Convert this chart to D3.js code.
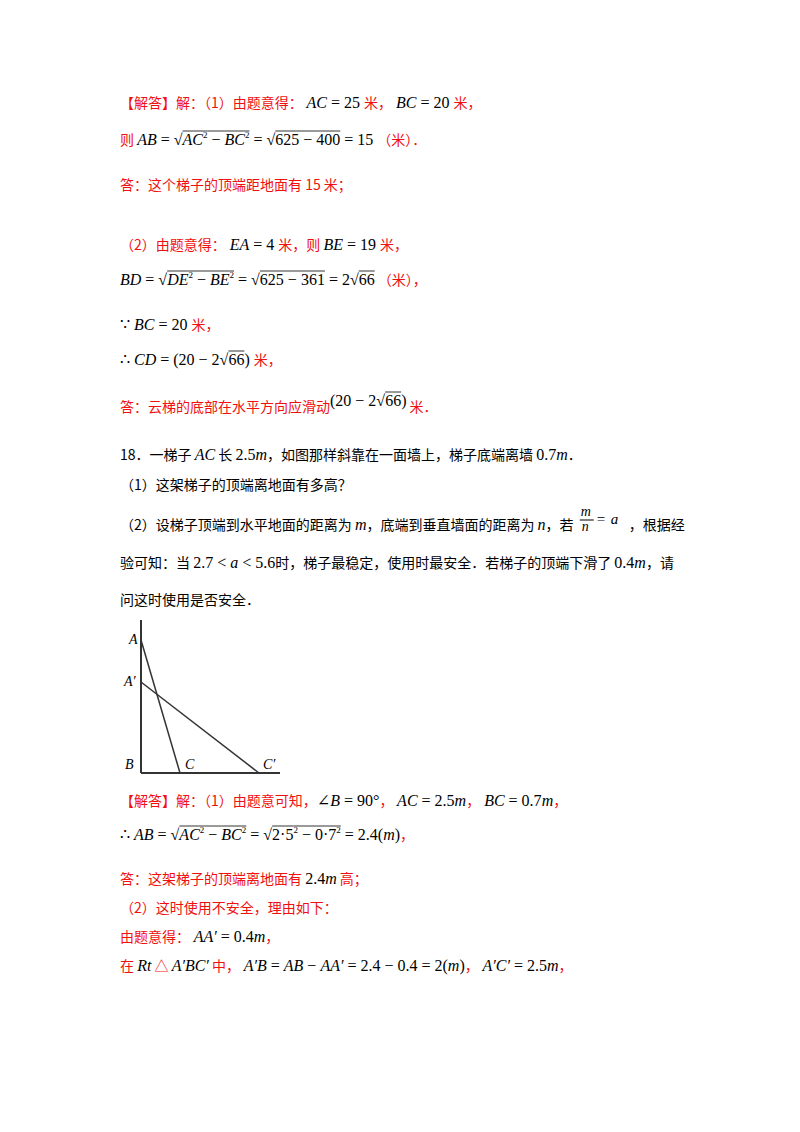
<!DOCTYPE html>
<html><head><meta charset="utf-8">
<script src="https://cdn.jsdelivr.net/npm/d3@7"></script>
<style>body{margin:0;background:#fff}</style>
</head><body>
<script>
// segment kinds: c red chinese, k black chinese, i italic serif, r roman serif, s superscript
var lineY = [108,145,190,250,285,330,365,412,460,490,530,568,605,806,840,884,913,942,971];
var lines = [
  [["c","【解答】解：（1）由题意得："],["i"," AC"],["r"," = 25 "],["c","米，"],["i"," BC"],["r"," = 20 "],["c","米，"]],
  [["c","则 "],["i","AB"],["r"," = √"],["i","AC","o"],["s","2","o"],["r"," − ","o"],["i","BC","o"],["s","2","o"],["r"," = √"],["r","625 − 400","o"],["r"," = 15 "],["c","（米）．"]],
  [["c","答：这个梯子的顶端距地面有 15 米；"]],
  [["c","（2）由题意得："],["i"," EA"],["r"," = 4 "],["c","米，则 "],["i","BE"],["r"," = 19 "],["c","米，"]],
  [["i","BD"],["r"," = √"],["i","DE","o"],["s","2","o"],["r"," − ","o"],["i","BE","o"],["s","2","o"],["r"," = √"],["r","625 − 361","o"],["r"," = 2√"],["r","66","o"],["c"," （米），"]],
  [["r","∵ "],["i","BC"],["r"," = 20 "],["c","米，"]],
  [["r","∴ "],["i","CD"],["r"," = (20 − 2√"],["r","66","o"],["r",") "],["c","米，"]],
  [["c","答：云梯的底部在水平方向应滑动"],["r","(20 − 2√","u"],["r","66","ou"],["r",")","u"],["c"," 米．"]],
  [["k","18．一梯子 "],["i","AC"],["k"," 长 "],["r","2.5"],["i","m"],["k","，如图那样斜靠在一面墙上，梯子底端离墙 "],["r","0.7"],["i","m"],["k","．"]],
  [["k","（1）这架梯子的顶端离地面有多高？"]],
  [["k","（2）设梯子顶端到水平地面的距离为 "],["i","m"],["k","，底端到垂直墙面的距离为 "],["i","n"],["k","，若 "],["f",""],["k","，根据经"]],
  [["k","验可知：当 "],["r","2.7 < "],["i","a"],["r"," < 5.6"],["k","时，梯子最稳定，使用时最安全．若梯子的顶端下滑了 "],["r","0.4"],["i","m"],["k","，请"]],
  [["k","问这时使用是否安全．"]],
  [["c","【解答】解：（1）由题意可知，"],["r","∠"],["i","B"],["r"," = 90°"],["c","，"],["i"," AC"],["r"," = 2.5"],["i","m"],["c","，"],["i"," BC"],["r"," = 0.7"],["i","m"],["c","，"]],
  [["r","∴ "],["i","AB"],["r"," = √"],["i","AC","o"],["s","2","o"],["r"," − ","o"],["i","BC","o"],["s","2","o"],["r"," = √"],["r","2·5","o"],["s","2","o"],["r"," − 0·7","o"],["s","2","o"],["r"," = 2.4("],["i","m"],["r",")"],["c","，"]],
  [["c","答：这架梯子的顶端离地面有 "],["r","2.4"],["i","m"],["c"," 高；"]],
  [["c","（2）这时使用不安全，理由如下："]],
  [["c","由题意得："],["i"," AA′"],["r"," = 0.4"],["i","m"],["c","，"]],
  [["c","在 "],["i","Rt"],["c"," △ "],["i","A′BC′"],["c"," 中，"],["i"," A′B"],["r"," = "],["i","AB"],["r"," − "],["i","AA′"],["r"," = 2.4 − 0.4 = 2("],["i","m"],["r",")"],["c","，"],["i"," A′C′"],["r"," = 2.5"],["i","m"],["c","，"]]
];

// figure points (figure units)
var figPoints = [
  {name:"A", x:0, y:133, lx:-12, ly:4},
  {name:"A′", x:0, y:91, lx:-17, ly:4},
  {name:"B", x:0, y:0, lx:-16, ly:-4},
  {name:"C", x:39, y:0, lx:5, ly:-4},
  {name:"C′", x:118, y:0, lx:4, ly:-4}
];
var figSegments = [["B","A0"],["B","G"],["A","C"],["A′","C′"]];

var svg = d3.select("body").append("svg").attr("width",800).attr("height",1132);
var CN = "'Noto Sans CJK SC', sans-serif", SERIF = "'Liberation Serif', 'DejaVu Serif', serif";

lines.forEach(function(line, li){
  var x = 120, y = lineY[li];
  line.forEach(function(seg){
    var kind = seg[0], flags = seg[2] || "";
    if (kind === "f") {
      // fraction m/n = a
      var g = svg.append("g");
      g.append("text").attr("x",x+4).attr("y",y-14).attr("font-family",SERIF).attr("font-style","italic").attr("font-size",14).text("m");
      g.append("line").attr("x1",x+3).attr("x2",x+17).attr("y1",y-10).attr("y2",y-10).attr("stroke","#000");
      g.append("text").attr("x",x+5).attr("y",y+1).attr("font-family",SERIF).attr("font-style","italic").attr("font-size",14).text("n");
      g.append("text").attr("x",x+20).attr("y",y-6).attr("font-family",SERIF).attr("font-size",15).text("= ");
      g.append("text").attr("x",x+34).attr("y",y-6).attr("font-family",SERIF).attr("font-style","italic").attr("font-size",15).text("a");
      x += 52; return;
    }
    var dy = kind === "s" ? -7 : 0;
    if (flags.indexOf("u") >= 0) dy -= 6;
    var t = svg.append("text").attr("x",x).attr("y",y+dy).attr("xml:space","preserve").style("white-space","pre")
      .attr("font-family", (kind==="c"||kind==="k") ? CN : SERIF)
      .attr("font-size", kind==="s" ? 9 : (kind==="c"||kind==="k") ? 14 : 16)
      .attr("font-style", kind==="i" ? "italic" : "normal")
      .attr("fill", kind==="c" ? "#f01010" : "#000")
      .text(seg[1]);
    var w = t.node().getComputedTextLength();
    if (flags.indexOf("o") >= 0) {
      var oy = y - 14 + (flags.indexOf("u")>=0 ? -6 : 0);
      svg.append("line").attr("x1",x).attr("x2",x+w).attr("y1",oy).attr("y2",oy).attr("stroke","#000").attr("stroke-width",0.8);
    }
    x += w;
  });
});

// figure
var fx = d3.scaleLinear().domain([0,139]).range([141,280]);
var fy = d3.scaleLinear().domain([0,153]).range([773,620]);
var pt = {};
figPoints.forEach(function(p){ pt[p.name] = p; });
pt["A0"] = {x:0, y:153};
pt["G"] = {x:139, y:0};
var fig = svg.append("g");
figSegments.forEach(function(s){
  fig.append("line").attr("x1",fx(pt[s[0]].x)).attr("y1",fy(pt[s[0]].y))
    .attr("x2",fx(pt[s[1]].x)).attr("y2",fy(pt[s[1]].y))
    .attr("stroke","#333").attr("stroke-width",s[1]==="A0"||s[1]==="G"?2:1.5);
});
fig.selectAll("text.lbl").data(figPoints).enter().append("text").attr("class","lbl")
  .attr("x",function(d){return fx(d.x)+d.lx;}).attr("y",function(d){return fy(d.y)+d.ly;})
  .attr("font-family",SERIF).attr("font-style","italic").attr("font-size",14).text(function(d){return d.name;});
</script>
</body></html>
